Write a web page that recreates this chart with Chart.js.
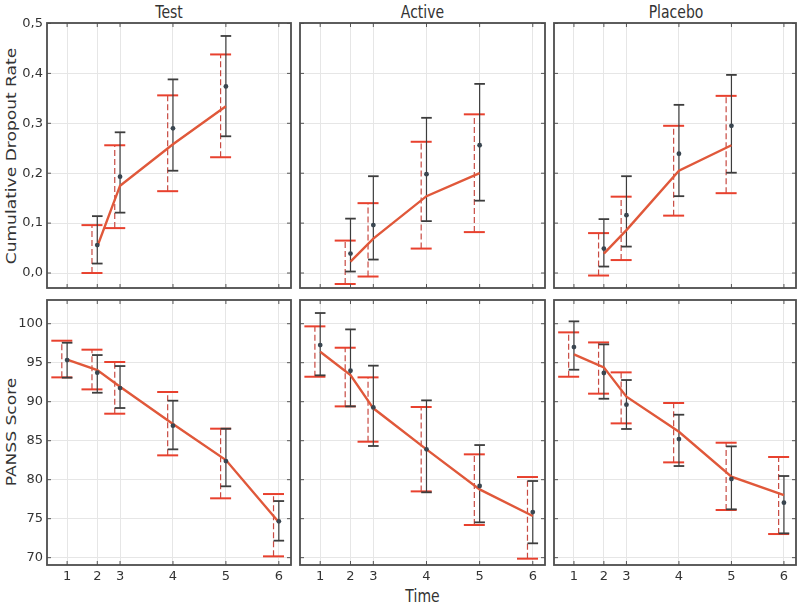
<!DOCTYPE html>
<html><head><meta charset="utf-8">
<script src="https://cdn.jsdelivr.net/npm/chart.js@4"></script>
<style>
body{margin:0;background:#fff;width:800px;height:608px;overflow:hidden;position:relative;font-family:"DejaVu Sans",sans-serif;color:#333}
canvas{position:absolute;left:0;top:0}
.lbl{position:absolute;white-space:nowrap;font-size:14px;line-height:1;color:#333}
</style></head><body>
<div class="lbl" style="left:169px;top:12px;transform:translate(-50%,-50%) scaleY(1.22)">Test</div>
<div class="lbl" style="left:422.5px;top:12px;transform:translate(-50%,-50%) scaleY(1.22)">Active</div>
<div class="lbl" style="left:676px;top:12px;transform:translate(-50%,-50%) scaleY(1.22)">Placebo</div>
<div class="lbl" style="left:422.5px;top:596px;transform:translate(-50%,-50%) scaleY(1.22)">Time</div>
<div class="lbl" style="left:11px;top:156px;transform:translate(-50%,-50%) scaleY(1.22) rotate(-90deg)">Cumulative Dropout Rate</div>
<div class="lbl" style="left:11px;top:432px;transform:translate(-50%,-50%) scaleY(1.22) rotate(-90deg)">PANSS Score</div>
<script>
// ---- data ----
const timeLabels = ['1','2','3','4','5','6'];
const timePos = [2.0, 2.57, 3.0, 4.0, 5.0, 6.0];
const dropTicks = [0, 0.1, 0.2, 0.3, 0.4, 0.5];
const panssTicks = [70, 75, 80, 85, 90, 95, 100];

// Cumulative dropout rate (model prediction + interval, observed + interval)
const testDropModel    = [null, 0.053, 0.175, 0.258, 0.334, null];
const testDropModelLo  = [null, 0.000, 0.090, 0.164, 0.232, null];
const testDropModelHi  = [null, 0.096, 0.256, 0.356, 0.438, null];
const testDropObs      = [null, 0.056, 0.193, 0.290, 0.374, null];
const testDropObsLo    = [null, 0.019, 0.121, 0.205, 0.274, null];
const testDropObsHi    = [null, 0.114, 0.282, 0.388, 0.475, null];

const activeDropModel   = [null, 0.023, 0.069, 0.154, 0.200, null];
const activeDropModelLo = [null, -0.022, -0.007, 0.049, 0.082, null];
const activeDropModelHi = [null, 0.065, 0.140, 0.263, 0.318, null];
const activeDropObs     = [null, 0.039, 0.096, 0.198, 0.256, null];
const activeDropObsLo   = [null, 0.003, 0.027, 0.104, 0.145, null];
const activeDropObsHi   = [null, 0.109, 0.194, 0.311, 0.379, null];

const placeboDropModel   = [null, 0.039, 0.086, 0.205, 0.256, null];
const placeboDropModelLo = [null, -0.005, 0.026, 0.115, 0.160, null];
const placeboDropModelHi = [null, 0.080, 0.153, 0.295, 0.355, null];
const placeboDropObs     = [null, 0.049, 0.116, 0.239, 0.295, null];
const placeboDropObsLo   = [null, 0.013, 0.053, 0.154, 0.201, null];
const placeboDropObsHi   = [null, 0.108, 0.194, 0.337, 0.397, null];

// PANSS score
const testPanssModel    = [95.40, 94.06, 91.92, 87.14, 82.52, 74.53];
const testPanssModelLo  = [93.12, 91.58, 88.46, 83.12, 77.61, 70.17];
const testPanssModelHi  = [97.82, 96.67, 95.09, 91.24, 86.54, 78.16];
const testPanssObs      = [95.34, 93.72, 91.75, 86.92, 82.39, 74.66];
const testPanssObsLo    = [93.08, 91.15, 89.19, 83.89, 79.15, 72.18];
const testPanssObsHi    = [97.56, 95.98, 94.57, 90.13, 86.54, 77.26];

const activePanssModel   = [96.41, 93.42, 89.15, 83.89, 78.76, 75.34];
const activePanssModelLo = [93.20, 89.40, 84.87, 78.50, 74.19, 69.87];
const activePanssModelHi = [99.66, 96.92, 93.12, 89.32, 83.25, 80.34];
const activePanssObs     = [97.26, 93.97, 89.27, 83.89, 79.19, 75.85];
const activePanssObsLo   = [93.38, 89.40, 84.32, 78.38, 74.53, 71.84];
const activePanssObsHi   = [101.37, 99.27, 94.62, 90.17, 84.44, 79.83];

const placeboPanssModel   = [96.07, 94.40, 90.64, 86.15, 80.38, 78.03];
const placeboPanssModelLo = [93.20, 91.03, 87.22, 82.22, 76.11, 73.03];
const placeboPanssModelHi = [98.89, 97.60, 93.76, 89.83, 84.74, 82.91];
const placeboPanssObs     = [97.00, 93.68, 89.62, 85.21, 80.09, 77.05];
const placeboPanssObsLo   = [94.10, 90.38, 86.50, 81.75, 76.20, 73.12];
const placeboPanssObsHi   = [100.30, 97.35, 92.78, 88.33, 84.27, 80.47];

// ---- layout / style ----
const COLS = [{l:47, r:291}, {l:300, r:545}, {l:554, r:798}];
const ROWS = [{t:23, b:288, min:-0.030, max:0.501, ticks:dropTicks},
              {t:300, b:565, min:69.06, max:103.04, ticks:panssTicks}];
const RED_LINE = '#e0583a', RED_CAP = '#e8412e', RED_DASH = '#c84a42', GRAY = '#3d3d3d', DOT = '#3a4650';

function line(ctx, x1, y1, x2, y2){ ctx.beginPath(); ctx.moveTo(x1,y1); ctx.lineTo(x2,y2); ctx.stroke(); }

const panelPlugin = {
  id: 'panel',
  beforeDatasetsDraw(chart, args, o){
    const {ctx, chartArea:a, scales:{x, y}} = chart;
    ctx.save();
    ctx.beginPath(); ctx.rect(a.left, a.top, a.right-a.left, a.bottom-a.top); ctx.clip();
    timePos.forEach((t, i) => {
      if (o.modelLo[i] == null) return;
      const xc = x.getPixelForValue(t);
      const xm = xc - 5.3;
      const mLo = y.getPixelForValue(o.modelLo[i]), mHi = y.getPixelForValue(o.modelHi[i]);
      ctx.strokeStyle = RED_DASH; ctx.lineWidth = 1.2; ctx.setLineDash([6,3]);
      line(ctx, xm, mLo, xm, mHi);
      ctx.setLineDash([]); ctx.lineWidth = 2; ctx.strokeStyle = RED_CAP;
      line(ctx, xm-10.5, mLo, xm+10.5, mLo); line(ctx, xm-10.5, mHi, xm+10.5, mHi);
      const oLo = y.getPixelForValue(o.obsLo[i]), oHi = y.getPixelForValue(o.obsHi[i]);
      ctx.strokeStyle = GRAY; ctx.lineWidth = 1.2;
      line(ctx, xc, oLo, xc, oHi);
      ctx.lineWidth = 1.8;
      line(ctx, xc-5.3, oLo, xc+5.3, oLo); line(ctx, xc-5.3, oHi, xc+5.3, oHi);
    });
    ctx.restore();
  },
  afterDraw(chart){
    const {ctx, chartArea:a, scales:{x, y}} = chart;
    ctx.save();
    ctx.strokeStyle = '#555'; ctx.lineWidth = 1;
    x.ticks.forEach(tk => { const px = x.getPixelForValue(tk.value);
      line(ctx, px, a.bottom, px, a.bottom-4); line(ctx, px, a.top, px, a.top+4); });
    y.ticks.forEach(tk => { const py = y.getPixelForValue(tk.value);
      line(ctx, a.left, py, a.left+4, py); line(ctx, a.right, py, a.right-4, py); });
    ctx.lineWidth = 1.8; ctx.strokeStyle = '#4d4d4d';
    ctx.strokeRect(a.left, a.top, a.right-a.left, a.bottom-a.top);
    ctx.restore();
  }
};

function pts(vals){ return timePos.map((t,i)=>({x:t, y:vals[i]})).filter(p => p.y != null); }

function makePanel(row, col, s){
  const canvas = document.createElement('canvas');
  canvas.width = 800; canvas.height = 608;
  document.body.appendChild(canvas);
  const c = COLS[col], r = ROWS[row];
  const yW = col === 0 ? 40 : 0;
  const xH = row === 1 ? 30 : 0;
  const tickFont = {family:'DejaVu Sans', size:13};
  new Chart(canvas, {
    type: 'line',
    data: { datasets: [
      {type:'scatter', data: pts(s.obs), pointRadius:2.4, pointBackgroundColor:DOT, pointBorderWidth:0, showLine:false, order:0},
      {type:'line', data: pts(s.model), borderColor:RED_LINE, borderWidth:2.4, pointRadius:0, tension:0, fill:false, order:1}
    ]},
    options: {
      responsive:false, animation:false, devicePixelRatio:1,
      layout: {padding: {left: c.l - yW, right: 800 - c.r, top: r.t, bottom: 608 - r.b - xH}},
      plugins: {legend:{display:false}, tooltip:{enabled:false}, panel: s},
      scales: {
        x: {type:'linear', min:1.62, max:6.23,
            afterBuildTicks: sc => { sc.ticks = timePos.map(v => ({value:v})); },
            afterFit: sc => { sc.height = xH; },
            grid: {color:'#e6e6e6', drawTicks:false}, border:{display:false},
            ticks: {display: row === 1, autoSkip:false, maxRotation:0, padding:4, font:tickFont, color:'#333',
                    callback: (v, i) => timeLabels[i]}},
        y: {type:'linear', min:r.min, max:r.max,
            afterBuildTicks: sc => { sc.ticks = r.ticks.map(v => ({value:v})); },
            afterFit: sc => { sc.width = yW; },
            grid: {color:'#e6e6e6', drawTicks:false}, border:{display:false},
            ticks: {display: col === 0, padding:4, font:tickFont, color:'#333',
                    callback: v => row === 0 ? v.toFixed(1).replace('.', ',') : String(v)}}
      }
    },
    plugins: [panelPlugin]
  });
}

makePanel(0, 0, {model:testDropModel, modelLo:testDropModelLo, modelHi:testDropModelHi, obs:testDropObs, obsLo:testDropObsLo, obsHi:testDropObsHi});
makePanel(0, 1, {model:activeDropModel, modelLo:activeDropModelLo, modelHi:activeDropModelHi, obs:activeDropObs, obsLo:activeDropObsLo, obsHi:activeDropObsHi});
makePanel(0, 2, {model:placeboDropModel, modelLo:placeboDropModelLo, modelHi:placeboDropModelHi, obs:placeboDropObs, obsLo:placeboDropObsLo, obsHi:placeboDropObsHi});
makePanel(1, 0, {model:testPanssModel, modelLo:testPanssModelLo, modelHi:testPanssModelHi, obs:testPanssObs, obsLo:testPanssObsLo, obsHi:testPanssObsHi});
makePanel(1, 1, {model:activePanssModel, modelLo:activePanssModelLo, modelHi:activePanssModelHi, obs:activePanssObs, obsLo:activePanssObsLo, obsHi:activePanssObsHi});
makePanel(1, 2, {model:placeboPanssModel, modelLo:placeboPanssModelLo, modelHi:placeboPanssModelHi, obs:placeboPanssObs, obsLo:placeboPanssObsLo, obsHi:placeboPanssObsHi});
</script>
</body></html>
